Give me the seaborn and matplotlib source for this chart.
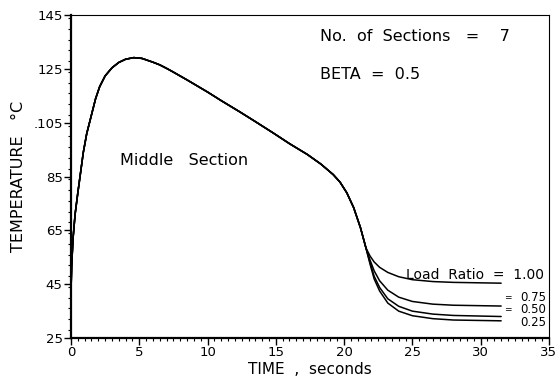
import matplotlib
matplotlib.use("Agg")
import matplotlib.pyplot as plt
from matplotlib.ticker import MultipleLocator
import pandas as pd
import seaborn as sns

# Common heating / cooling history of the middle section
t_common = [0.0, 0.05, 0.15, 0.3, 0.5, 0.7, 0.9, 1.15, 1.5, 1.8, 2.1, 2.5, 3.0,
            3.5, 4.0, 4.6, 5.2, 6.0, 6.5, 7.0, 7.5, 8.5, 10.0, 11.0, 12.4, 13.5,
            14.8, 16.0, 17.3, 18.3, 19.2, 19.7, 20.2, 20.7, 21.2, 21.6]
T_common = [42.0, 52.0, 62.0, 71.0, 79.0, 86.5, 94.0, 101.0, 108.0, 114.0,
            118.5, 122.5, 125.5, 127.5, 128.7, 129.3, 129.0, 127.6, 126.6, 125.3,
            123.9, 121.0, 116.5, 113.3, 109.0, 105.5, 101.3, 97.3, 93.3, 89.7,
            85.8, 83.0, 79.0, 73.5, 66.0, 58.5]

# Cooling branches for each load ratio
t_branch = [21.6, 21.9, 22.2, 22.6, 23.2, 24.0, 25.0, 26.5, 28.0, 31.5]
load_ratios = ["1.00", "0.75", "0.50", "0.25"]
T_100 = [58.5, 55.5, 53.3, 51.3, 49.4, 47.8, 46.7, 46.0, 45.7, 45.4]
T_075 = [58.5, 54.0, 50.0, 46.3, 42.8, 40.2, 38.6, 37.6, 37.2, 36.9]
T_050 = [58.5, 53.0, 48.0, 43.8, 39.6, 36.8, 35.0, 33.9, 33.4, 33.0]
T_025 = [58.5, 52.5, 47.0, 42.5, 38.0, 35.0, 33.3, 32.2, 31.7, 31.4]
branches = [T_100, T_075, T_050, T_025]

x_ticks = [0, 5, 10, 15, 20, 25, 30, 35]
y_ticks = [25, 45, 65, 85, 105, 125, 145]
y_ticklabels = ["25", "45", "65", "85", ".105", "125", "145"]

frames = []
for ratio, temps in zip(load_ratios, branches):
    frames.append(pd.DataFrame({"time": t_common[:-1] + t_branch,
                                "temp": T_common[:-1] + temps,
                                "ratio": ratio}))
df = pd.concat(frames, ignore_index=True)

sns.set_style("ticks")
plt.rcParams["font.family"] = ["DejaVu Sans"]
plt.rcParams["text.color"] = "black"
plt.rcParams["axes.labelcolor"] = "black"

fig = plt.figure(figsize=(5.59, 3.85), dpi=100)
ax = fig.add_axes([0.127, 0.122, 0.855, 0.838])

sns.lineplot(data=df, x="time", y="temp", units="ratio", estimator=None,
             color="black", linewidth=1.1, sort=False, ax=ax, legend=False)

ax.set_xlim(0, 35)
ax.set_ylim(25, 145)
ax.set_xticks(x_ticks)
ax.set_xticklabels([str(v) for v in x_ticks])
ax.set_yticks(y_ticks)
ax.set_yticklabels(y_ticklabels)
ax.xaxis.set_minor_locator(MultipleLocator(0.5))
ax.yaxis.set_minor_locator(MultipleLocator(4))
ax.tick_params(axis="both", which="major", direction="out", length=5, width=1,
               labelsize=9.5, pad=1, colors="black")
ax.tick_params(axis="both", which="minor", direction="out", length=2.5, width=0.8,
               colors="black")

for side in ["left", "bottom"]:
    ax.spines[side].set_linewidth(1.6)
for side in ["top", "right"]:
    ax.spines[side].set_linewidth(0.8)
    ax.spines[side].set_visible(True)
for sp in ax.spines.values():
    sp.set_color("black")

ax.set_xlabel("TIME  ,  seconds", fontsize=11, labelpad=2)
ax.set_ylabel("TEMPERATURE   °C", fontsize=11.5, labelpad=5)

ax.text(18.2, 137, "No.  of  Sections   =    7", fontsize=11.5, va="center")
ax.text(18.2, 123, "BETA  =  0.5", fontsize=11.5, va="center")
ax.text(3.6, 91, "Middle   Section", fontsize=11.5, va="center")

# Load ratio labels at the ends of the cooling branches
ax.text(24.5, 45.9, "Load  Ratio  =  1.00", fontsize=10, va="bottom")
ax.text(31.7, 40.2, "=", fontsize=6.5, va="center")
ax.text(31.7, 35.5, "=", fontsize=6.5, va="center")
ax.text(32.9, 40.2, "0.75", fontsize=8.5, va="center")
ax.text(32.9, 35.5, "0.50", fontsize=8.5, va="center")
ax.text(32.9, 30.6, "0.25", fontsize=8.5, va="center")

fig.savefig("out.png", dpi=100)
